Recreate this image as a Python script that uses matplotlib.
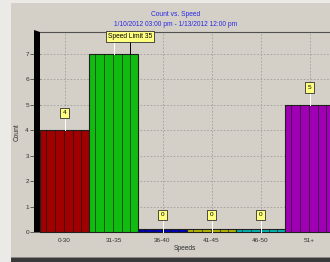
import matplotlib
matplotlib.use("Agg")
import matplotlib.pyplot as plt
from matplotlib.patches import Rectangle, Polygon
import numpy as np

plt.rcParams["font.family"] = ["Liberation Sans", "DejaVu Sans"]

# ---------- data ----------
speeds = ["0-30", "31-35", "36-40", "41-45", "46-50", "51+"]
counts = [4, 7, 0, 0, 0, 5]
bar_colors = ["#a00000", "#10bc10", "#0000b4", "#b4b400", "#00b4b4", "#a000b4"]
title = "Count vs. Speed"
subtitle = "1/10/2012 03:00 pm - 1/13/2012 12:00 pm"
limit_text = "Speed Limit 35"
limit_pos = 1.34          # where the speed limit marker sits on the category axis

W, H = 330, 262
BG = "#d4d0c8"
fig = plt.figure(figsize=(W / 100, H / 100), dpi=100, facecolor="#eceae6")

def px(x, y):
    return x / W, 1 - y / H

# window frame
fig.patches.append(Rectangle(px(11, 257), 1, (257 - 3) / H, transform=fig.transFigure,
                             facecolor=BG, edgecolor="none", zorder=-5))
fig.patches.append(Rectangle(px(11, 262), 1, 4 / H, transform=fig.transFigure,
                             facecolor="#3a3a3a", edgecolor="none", zorder=-5))
fig.patches.append(Rectangle(px(11, 258), 1, 1.5 / H, transform=fig.transFigure,
                             facecolor="#8a8884", edgecolor="none", zorder=-5))

ax = fig.add_axes([40 / W, 30 / H, 290 / W, 200 / H])
ax.set_facecolor(BG)

x = np.arange(len(speeds))
min_h = 0.11   # zero bars still drawn as a thin strip
heights = [max(c, min_h) for c in counts]
ax.bar(x, heights, width=1.0, color=bar_colors, edgecolor="#202020", lw=0.8, zorder=3)
# vertical stripes inside each bar
for xi, h in zip(x, heights):
    for f in [0.13, 0.31, 0.49, 0.67, 0.84]:
        ax.plot([xi - 0.5 + f, xi - 0.5 + f], [0, h], color="#101010", lw=0.6,
                alpha=0.7, zorder=4)

ax.set_xlim(-0.5, -0.5 + 290 / 49)
ax.set_ylim(0, 7.86)

ax.set_yticks(range(8))
ax.set_xticks(x)
ax.set_xticklabels(speeds)
ax.tick_params(axis="both", labelsize=4.6, colors="#303030", width=0.5)
ax.tick_params(axis="y", length=7, pad=1)
ax.tick_params(axis="x", length=0, pad=4)

ax.grid(True, ls=(0, (2, 2)), color="#a0a0a0", lw=0.6, zorder=1)
ax.spines["right"].set_visible(False)
ax.spines["top"].set_color("#505050")
ax.spines["top"].set_linewidth(0.8)
ax.spines["bottom"].set_color("#202020")
ax.spines["left"].set_visible(False)

# 3d-ish black wall on the left
wall = Polygon([px(34, 232), px(34, 30), px(40, 32), px(40, 232)], closed=True,
               transform=fig.transFigure, facecolor="black", edgecolor="none", zorder=5)
fig.patches.append(wall)

ax.set_xlabel("Speeds", fontsize=4.8, labelpad=2, color="#303030")
ax.set_ylabel("Count", fontsize=4.8, labelpad=3, color="#303030")

fig.text(176 / W, 1 - 15 / H, title, ha="center", va="center", fontsize=4.8, color="#2828e0")
fig.text(176 / W, 1 - 24 / H, subtitle, ha="center", va="center", fontsize=4.8, color="#2828e0")

# value labels (the one under the speed limit box is hidden, only its leader shows)
box = dict(boxstyle="square,pad=0.4", facecolor="#ffff80", edgecolor="#303030", lw=0.6)
off = 0.68
for xi, c in zip(x, counts):
    ax.plot([xi, xi], [c, c + off - 0.15], color="white", lw=0.7, zorder=6, clip_on=False)
    if abs(xi - limit_pos) < 0.5:
        continue
    ax.text(xi, c + off, str(c), ha="center", va="center", fontsize=4.6, bbox=box,
            zorder=7, clip_on=False)

# speed limit marker
ax.plot([limit_pos, limit_pos], [counts[1], 7.6], color="black", lw=0.7, zorder=8)
ax.text(limit_pos, 7.67, limit_text, ha="center", va="center", fontsize=4.8,
        bbox=dict(boxstyle="square,pad=0.3", facecolor="#ffff80", edgecolor="#303030", lw=0.6),
        zorder=9, clip_on=False)

fig.savefig("out.png", dpi=100, facecolor=fig.get_facecolor())
